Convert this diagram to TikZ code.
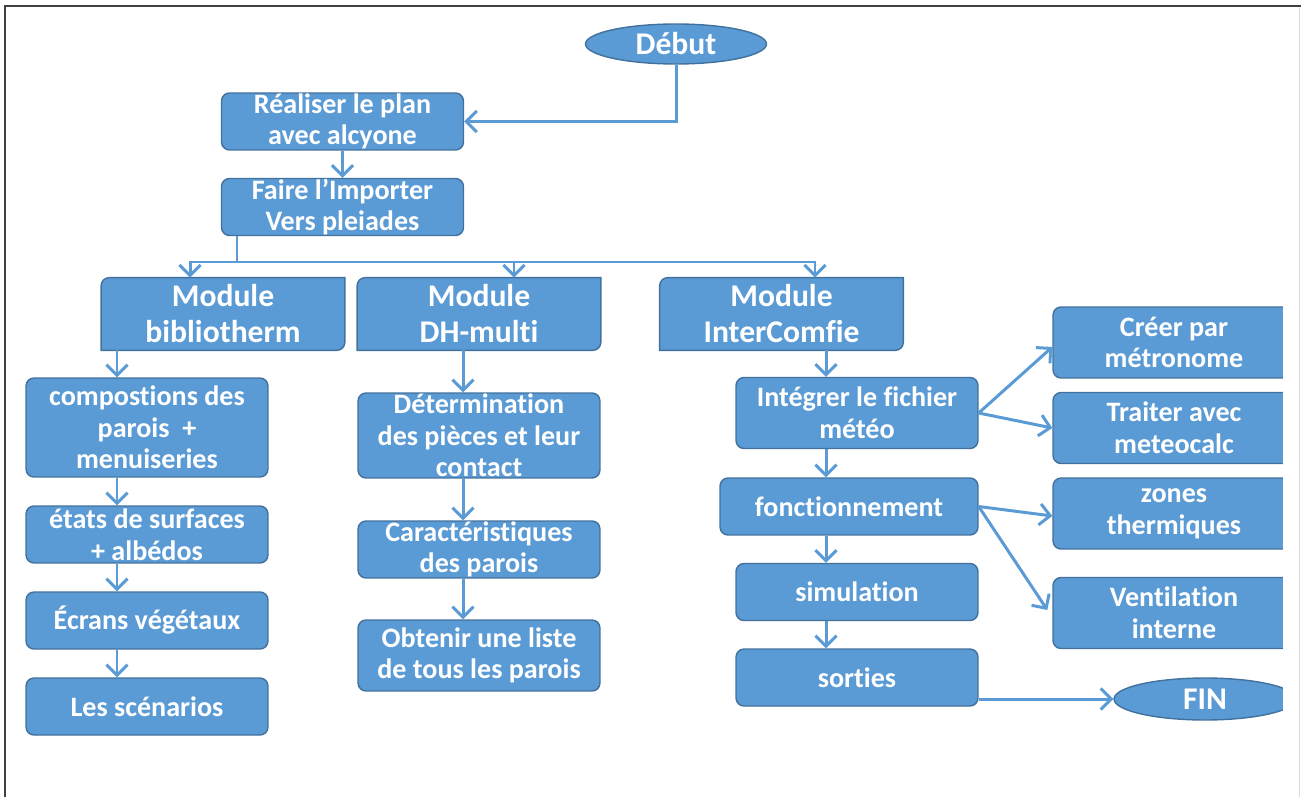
\documentclass[tikz,border=0pt]{standalone}
\usepackage{fontspec}
\setmainfont{Carlito}[Ligatures=NoCommon]
\usetikzlibrary{arrows.meta,shapes.geometric,backgrounds}
\definecolor{boxblue}{RGB}{91,155,213}
\definecolor{boxedge}{RGB}{65,113,156}
\definecolor{framegray}{RGB}{64,64,64}
\begin{document}
\begin{tikzpicture}[x=0.02cm,y=-0.02cm,
	every node/.style={text=white,font=\bfseries\fontsize{16}{18}\selectfont,align=center,inner sep=0pt},
	box/.style={draw=boxedge,fill=boxblue,line width=0.8pt,rounded corners=0.16cm,minimum width=4.84cm,minimum height=1.14cm},
	tall/.style={box,minimum height=1.42cm},
	module/.style={font=\bfseries\fontsize{18}{20.5}\selectfont,minimum width=4.86cm,minimum height=1.44cm},
	terminal/.style={ellipse,draw=boxedge,fill=boxblue,line width=0.8pt,font=\bfseries\fontsize{18}{20}\selectfont,minimum width=3.62cm,minimum height=0.8cm},
	link/.style={draw=boxblue,line width=1.7pt},
	arr/.style={link,-{Straight Barb[length=6pt,width=12pt]}}]
	\useasboundingbox (0,0) rectangle (1301,797);
	\node[terminal] (debut) at (676,44) {Début};
	\node[box] (plan) at (342.5,121.5) {Réaliser le plan\\avec alcyone};
	\node[box] (import) at (342.5,207) {Faire l’Importer\\Vers pleiades};
	\node[module] (bib) at (223,314) {Module\\bibliotherm};
	\node[module] (dh) at (479,314) {Module\\DH-multi};
	\node[module] (ic) at (781.5,314) {Module\\InterComfie};
	\node[box,minimum height=1.98cm] (comp) at (147,427.5) {compostions des\\parois\ \ +\\menuiseries};
	\node[box] (etat) at (147,534.5) {états de surfaces\\+ albédos};
	\node[box] (ecran) at (147,620.5) {Écrans végétaux};
	\node[box] (scen) at (147,706.5) {Les scénarios};
	\node[box,minimum height=1.7cm] (determ) at (479,435.5) {Détermination\\des pièces et leur\\contact};
	\node[box] (carac) at (479,549.5) {Caractéristiques\\des parois};
	\node[tall] (liste) at (479,655.5) {Obtenir une liste\\de tous les parois};
	\node[tall] (meteo) at (857,413) {Intégrer le fichier\\météo};
	\node[box,minimum width=5.16cm] (fonct) at (849,506.5) {fonctionnement};
	\node[box] (simu) at (857,592) {simulation};
	\node[box] (sort) at (857,677.5) {sorties};
	\node[tall] (creer) at (1174,342.5) {Créer par\\métronome};
	\node[tall] (trait) at (1174,428) {Traiter avec\\meteocalc};
	\node[tall] (zones) at (1174,513.5) {zones\\thermiques};
	\node[tall] (venti) at (1174,613) {Ventilation\\interne};
	\node[terminal,minimum width=3.64cm,minimum height=0.84cm] (fin) at (1205,699) {FIN};
	\begin{scope}[on background layer]
	\foreach \m in {bib,dh,ic}
		\draw[draw=boxedge,fill=boxblue,line width=0.8pt] (\m.south west) -- ([yshift=-0.16cm]\m.north west)
			arc[start angle=180,end angle=90,radius=0.16cm] -- (\m.north east) -- ([yshift=0.16cm]\m.south east)
			arc[start angle=0,end angle=-90,radius=0.16cm] -- cycle;
	\end{scope}
	\coordinate (split) at (237,262);
	\coordinate (lcol) at (117,0);
	\coordinate (mcol) at (463,0);
	\coordinate (rcol) at (826,0);
	\draw[arr] (debut.south) |- (plan.east);
	\draw[arr] (plan) -- (import);
	\draw[link] (import.south -| split) -- (split);
	\draw[arr] (split) -| ([xshift=-0.66cm]bib.north);
	\draw[arr] (split) -| ([xshift=0.7cm]dh.north);
	\draw[arr] (split) -| ([xshift=0.67cm]ic.north);
	\foreach \a/\b in {bib/comp,comp/etat,etat/ecran,ecran/scen}
		\draw[arr] (\a.south -| lcol) -- (\b.north -| lcol);
	\foreach \a/\b in {dh/determ,determ/carac,carac/liste}
		\draw[arr] (\a.south -| mcol) -- (\b.north -| mcol);
	\foreach \a/\b in {ic/meteo,meteo/fonct,fonct/simu,simu/sort}
		\draw[arr] (\a.south -| rcol) -- (\b.north -| rcol);
	\draw[arr] (meteo.east) -- ([yshift=-0.09cm]creer.west);
	\draw[arr] (meteo.east) -- (trait.west);
	\draw[arr] (fonct.east) -- ([yshift=-0.05cm]zones.west);
	\draw[arr] (fonct.east) -- ([xshift=-0.1cm,yshift=0.06cm]venti.west);
	\draw[arr] (fin.west -| sort.east) -- (fin.west);
	% page edge
	\fill[white] (1283,8) rectangle (1301,797);
	\draw[black!15,line width=0.6pt] (1299.5,8) -- (1299.5,797);
	\draw[framegray,line width=1.2pt] (1301,6) -- (5,6) -- (5,797);
\end{tikzpicture}
\end{document}
